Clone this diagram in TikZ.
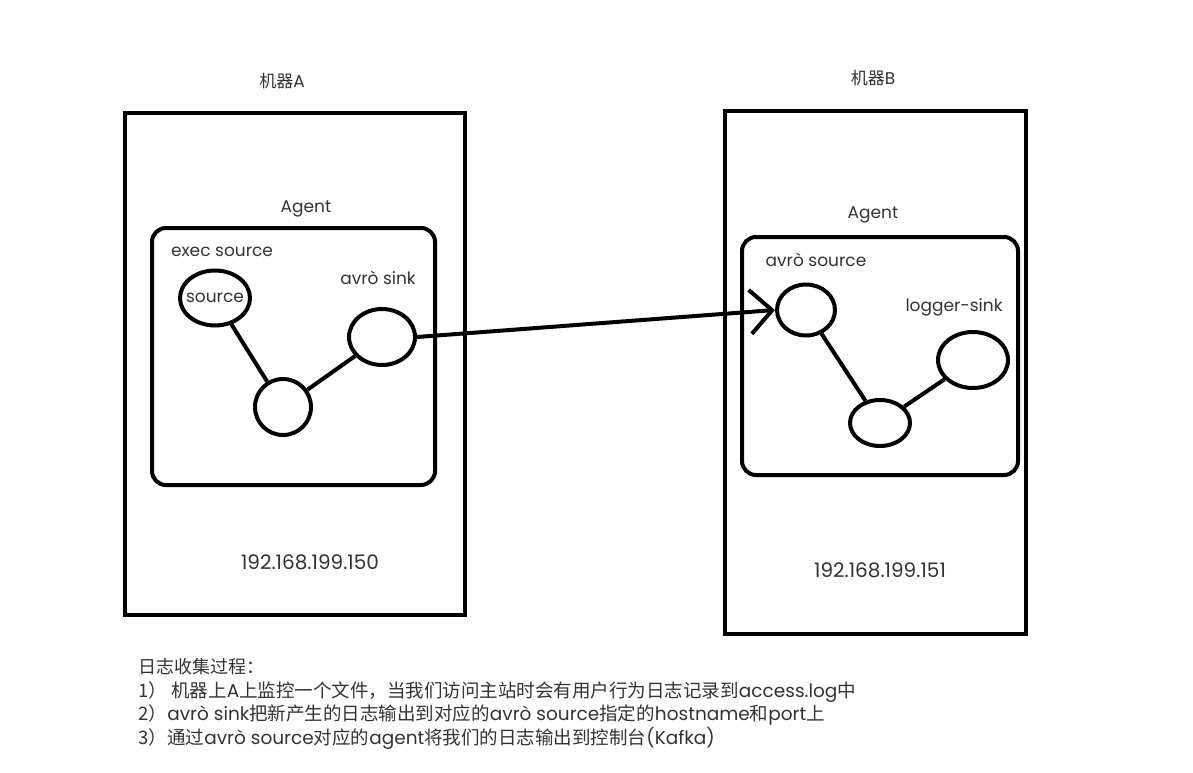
\documentclass[tikz,border=0pt]{standalone}
\usepackage{fontspec}
\setmainfont{Poppins}
\newfontfamily\cjk{Noto Sans CJK SC}
\usetikzlibrary{shapes.geometric,arrows.meta}
\definecolor{txtgray}{HTML}{333333}
\begin{document}
\begin{tikzpicture}[x=1pt,y=-1pt,
        machine/.style={draw, line width=4pt},
        agent/.style={draw, line width=4pt, rounded corners=14pt},
        comp/.style={draw, ellipse, line width=4pt, inner sep=0pt},
        link/.style={draw, line width=4pt},
        lbl/.style={text=txtgray, font=\fontsize{17}{20}\selectfont},
        ip/.style={text=txtgray, font=\fontsize{20}{24}\selectfont},
        note/.style={text=txtgray, anchor=base west, font=\fontsize{18.5}{20}\selectfont},
    ]
    \useasboundingbox (0,0) rectangle (1193,773);
    % machines
    \draw[machine] (125,113) rectangle (465,615);
    \draw[machine] (725,111) rectangle (1026,634);
    \node[lbl](nameA) at (282,81) {{\cjk 机器}A};
    \node[lbl](nameB) at (873,78) {{\cjk 机器}B};
    \node[ip](ipA) at (310,562) {192.168.199.150};
    \node[ip](ipB) at (880,570) {192.168.199.151};
    % agents
    \draw[agent] (152,228) rectangle (435,485);
    \draw[agent] (742,237) rectangle (1018,475);
    \node[lbl](agentA) at (306,209) {Agent};
    \node[lbl](agentB) at (873,215) {Agent};
    % components of A
    \node[comp, minimum width=70pt, minimum height=55pt](srcA) at (215,298) {};
    \node[lbl] at (srcA) {source};
    \node[comp, minimum width=56pt, minimum height=56pt](chA) at (283,407) {};
    \node[comp, minimum width=66pt, minimum height=56pt](sinkA) at (382,337) {};
    \node[lbl](execlbl) at (222,252) {exec source};
    \node[lbl](sinklbl) at (378,278) {avrò sink};
    \draw[link] (srcA) -- (chA);
    \draw[link] (chA) -- (sinkA);
    % components of B
    \node[comp, minimum width=58pt, minimum height=51pt](srcB) at (806,310) {};
    \node[comp, minimum width=60pt, minimum height=46pt](chB) at (880,423) {};
    \node[comp, minimum width=70pt, minimum height=56pt](sinkB) at (973,360) {};
    \node[lbl](srclbl) at (816,260) {avrò source};
    \node[lbl](loglbl) at (954,307) {logger-sink};
    \draw[link] (srcB) -- (chB);
    \draw[link] (chB) -- (sinkB);
    % avro link
    \draw[link, -{Straight Barb[length=22pt,width=44pt]}] (sinkA.east) -- (srcB.west);
    % notes
    \node[note, font=\fontsize{18}{20}\selectfont](n0) at (135,673) {\cjk 日志收集过程：};
    \node[note](n1) at (135,697) {{\cjk 1）\ 机器上}A{\cjk 上监控一个文件，当我们访问主站时会有用户行为日志记录到}access.log{\cjk 中}};
    \node[note](n2) at (135,720) {{\cjk 2）}avrò sink{\cjk 把新产生的日志输出到对应的}avrò source{\cjk 指定的}hostname{\cjk 和}port{\cjk 上}};
    \node[note](n3) at (135,744) {{\cjk 3）通过}avrò source{\cjk 对应的}agent{\cjk 将我们的日志输出到控制台}(Kafka)};
\end{tikzpicture}
\end{document}
